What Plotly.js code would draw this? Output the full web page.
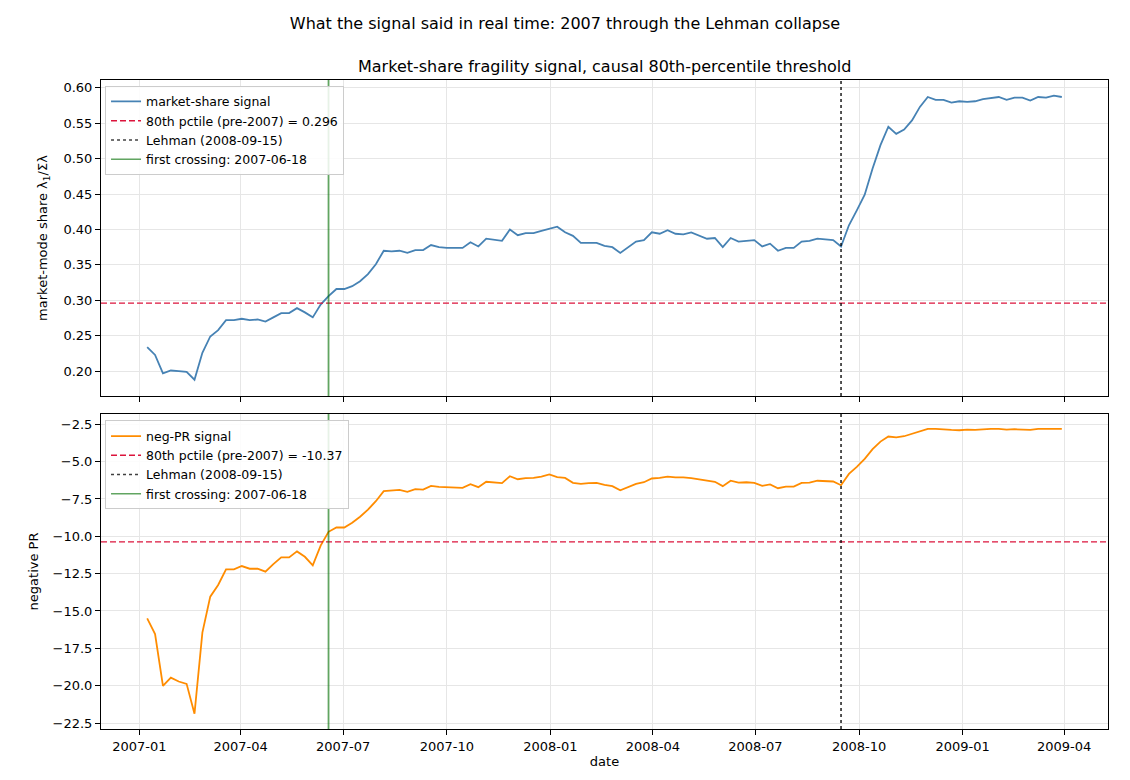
<!DOCTYPE html>
<html>
<head>
<meta charset="utf-8">
<script src="https://cdn.plot.ly/plotly-3.0.1.min.js"></script>
<style>
  html, body { margin: 0; padding: 0; background: #fff; }
  #chart { width: 1130px; height: 780px; }
</style>
</head>
<body>
<div id="chart"></div>
<script>
// --- data (weekly, Mondays from 2007-01-08) ---
const START_DATE = '2007-01-08';
const N_WEEKS = 117;

const marketShare = [
  0.234, 0.223, 0.197, 0.201, 0.200, 0.199, 0.188, 0.226, 0.249, 0.258,
  0.272, 0.272, 0.274, 0.272, 0.273, 0.270, 0.276, 0.282, 0.282, 0.289,
  0.283, 0.276, 0.294, 0.306, 0.316, 0.316, 0.320, 0.327, 0.337, 0.351,
  0.370, 0.369, 0.370, 0.367, 0.371, 0.371, 0.378, 0.375, 0.374, 0.374,
  0.374, 0.382, 0.376, 0.387, 0.385, 0.384, 0.400, 0.392, 0.395, 0.395,
  0.398, 0.401, 0.404, 0.396, 0.391, 0.381, 0.381, 0.381, 0.377, 0.375,
  0.367, 0.375, 0.383, 0.385, 0.396, 0.394, 0.399, 0.394, 0.393, 0.396,
  0.392, 0.387, 0.388, 0.375, 0.388, 0.383, 0.384, 0.385, 0.376, 0.380,
  0.370, 0.374, 0.374, 0.383, 0.384, 0.387, 0.386, 0.385, 0.376, 0.406,
  0.427, 0.449, 0.486, 0.519, 0.545, 0.535, 0.541, 0.554, 0.573, 0.587,
  0.583, 0.583, 0.579, 0.581, 0.580, 0.581, 0.584, 0.586, 0.587, 0.583,
  0.586, 0.586, 0.582, 0.587, 0.586, 0.589, 0.587
];

const negPR = [
  -15.49, -16.54, -20.01, -19.46, -19.72, -19.88, -21.88, -16.45, -14.04, -13.26,
  -12.21, -12.21, -11.99, -12.17, -12.17, -12.37, -11.86, -11.41, -11.41, -11.01,
  -11.37, -11.95, -10.62, -9.70, -9.41, -9.41, -9.09, -8.69, -8.22, -7.65,
  -6.98, -6.93, -6.89, -7.02, -6.84, -6.87, -6.62, -6.69, -6.71, -6.74,
  -6.76, -6.51, -6.71, -6.35, -6.40, -6.44, -5.98, -6.18, -6.11, -6.09,
  -6.00, -5.86, -6.04, -6.09, -6.42, -6.49, -6.44, -6.42, -6.55, -6.64,
  -6.92, -6.73, -6.49, -6.38, -6.13, -6.09, -6.00, -6.06, -6.06, -6.11,
  -6.18, -6.29, -6.35, -6.64, -6.28, -6.41, -6.38, -6.42, -6.62, -6.53,
  -6.78, -6.67, -6.67, -6.42, -6.40, -6.28, -6.29, -6.33, -6.58, -5.82,
  -5.35, -4.82, -4.17, -3.66, -3.32, -3.37, -3.30, -3.12, -2.97, -2.81,
  -2.81, -2.86, -2.88, -2.90, -2.86, -2.88, -2.83, -2.81, -2.81, -2.86,
  -2.83, -2.83, -2.88, -2.81, -2.81, -2.79, -2.81
];

const THRESH_MS = 0.296;
const THRESH_PR = -10.37;
const LEHMAN = '2008-09-15';
const FIRST_CROSS = '2007-06-18';

// weekly date grid
const dates = [];
{
  const d0 = new Date(START_DATE + 'T00:00:00Z');
  for (let i = 0; i < N_WEEKS; i++) {
    const d = new Date(d0.getTime() + i * 7 * 86400000);
    dates.push(d.toISOString().slice(0, 10));
  }
}

// --- colours ---
const C_MS = '#4682b4';
const C_PR = '#ff8c00';
const C_THR = '#dc143c';
const C_LEH = 'rgba(0,0,0,0.75)';
const C_CROSS = 'rgba(0,110,0,0.62)';
const FONT = 'DejaVu Sans, sans-serif';

const DASH_THR = '6px,3px';

// legend-only helper (no data, just the sample line)
const legendOnly = (name, color, dash, legend, xa, ya) => ({
  x: [null], y: [null], type: 'scatter', mode: 'lines',
  name: name, line: { color: color, width: 1.5, dash: dash },
  legend: legend, xaxis: xa, yaxis: ya, hoverinfo: 'skip'
});

const traces = [
  // top panel
  {
    x: dates, y: marketShare, type: 'scatter', mode: 'lines',
    name: 'market-share signal', line: { color: C_MS, width: 1.8 },
    xaxis: 'x', yaxis: 'y', legend: 'legend'
  },
  legendOnly('80th pctile (pre-2007) = ' + THRESH_MS.toFixed(3), C_THR, DASH_THR, 'legend', 'x', 'y'),
  legendOnly('Lehman (' + LEHMAN + ')', C_LEH, 'dot', 'legend', 'x', 'y'),
  legendOnly('first crossing: ' + FIRST_CROSS, C_CROSS, 'solid', 'legend', 'x', 'y'),

  // bottom panel
  {
    x: dates, y: negPR, type: 'scatter', mode: 'lines',
    name: 'neg-PR signal', line: { color: C_PR, width: 1.8 },
    xaxis: 'x2', yaxis: 'y2', legend: 'legend2'
  },
  legendOnly('80th pctile (pre-2007) = ' + THRESH_PR.toFixed(2), C_THR, DASH_THR, 'legend2', 'x2', 'y2'),
  legendOnly('Lehman (' + LEHMAN + ')', C_LEH, 'dot', 'legend2', 'x2', 'y2'),
  legendOnly('first crossing: ' + FIRST_CROSS, C_CROSS, 'solid', 'legend2', 'x2', 'y2')
];

// reference lines as shapes
const refShapes = (xa, ya, thr) => [
  { type: 'line', xref: xa + ' domain', x0: 0, x1: 1, yref: ya, y0: thr, y1: thr,
    line: { color: C_THR, width: 1.3, dash: DASH_THR } },
  { type: 'line', xref: xa, x0: LEHMAN, x1: LEHMAN, yref: ya + ' domain', y0: 0, y1: 1,
    line: { color: C_LEH, width: 1.8, dash: 'dot' } },
  { type: 'line', xref: xa, x0: FIRST_CROSS, x1: FIRST_CROSS, yref: ya + ' domain', y0: 0, y1: 1,
    line: { color: C_CROSS, width: 1.8 } }
];

const axisCommon = {
  showline: true, linecolor: '#000', linewidth: 1, mirror: true,
  ticks: 'outside', ticklen: 5, tickwidth: 1, tickcolor: '#000',
  showgrid: true, gridcolor: '#e6e6e6', gridwidth: 1,
  zeroline: false,
  tickfont: { family: FONT, size: 13, color: '#000' }
};

const xRange = ['2006-11-28', '2009-05-10'];

const legendCommon = {
  xref: 'paper', yref: 'paper', xanchor: 'left', yanchor: 'top',
  bgcolor: 'rgba(255,255,255,0.85)', bordercolor: '#cccccc', borderwidth: 1,
  font: { family: FONT, size: 12.5, color: '#000' },
  itemwidth: 30, tracegroupgap: 0
};

const layout = {
  width: 1130, height: 780,
  paper_bgcolor: '#fff', plot_bgcolor: '#fff',
  margin: { l: 101, r: 22, t: 80, b: 51 },
  font: { family: FONT, color: '#000' },
  title: {
    text: 'What the signal said in real time: 2007 through the Lehman collapse',
    font: { family: FONT, size: 16, color: '#000' },
    xref: 'container', x: 0.5, yref: 'container', y: 1 - 23 / 780, yanchor: 'middle'
  },
  showlegend: true,
  legend: Object.assign({}, legendCommon, { x: 0.004, y: 0.991 }),
  legend2: Object.assign({}, legendCommon, { x: 0.004, y: 0.4755 }),

  xaxis: Object.assign({}, axisCommon, {
    domain: [0, 1], anchor: 'y', range: xRange, type: 'date',
    tick0: '2007-01-01', dtick: 'M3', tickformat: '%Y-%m',
    showticklabels: false, matches: 'x2'
  }),
  yaxis: Object.assign({}, axisCommon, {
    domain: [0.5131, 1], anchor: 'x', range: [0.165, 0.611],
    dtick: 0.05, tick0: 0, tickformat: '.2f',
    title: { text: 'market-mode share λ<sub>1</sub>/Σλ', standoff: 12,
             font: { family: FONT, size: 13, color: '#000' } }
  }),
  xaxis2: Object.assign({}, axisCommon, {
    domain: [0, 1], anchor: 'y2', range: xRange, type: 'date',
    tick0: '2007-01-01', dtick: 'M3', tickformat: '%Y-%m',
    title: { text: 'date', standoff: 4, font: { family: FONT, size: 13, color: '#000' } }
  }),
  yaxis2: Object.assign({}, axisCommon, {
    domain: [0, 0.4854], anchor: 'x2', range: [-22.9, -1.81],
    dtick: 2.5, tick0: 0, tickformat: '.1f',
    title: { text: 'negative PR', standoff: 11,
             font: { family: FONT, size: 13, color: '#000' } }
  }),

  shapes: refShapes('x', 'y', THRESH_MS).concat(refShapes('x2', 'y2', THRESH_PR)),

  annotations: [{
    text: 'Market-share fragility signal, causal 80th-percentile threshold',
    xref: 'paper', yref: 'paper', x: 0.5, y: 1 + 13 / 649,
    xanchor: 'center', yanchor: 'middle', showarrow: false,
    font: { family: FONT, size: 16, color: '#000' }
  }]
};

Plotly.newPlot('chart', traces, layout, { displayModeBar: false, staticPlot: true });
</script>
</body>
</html>
